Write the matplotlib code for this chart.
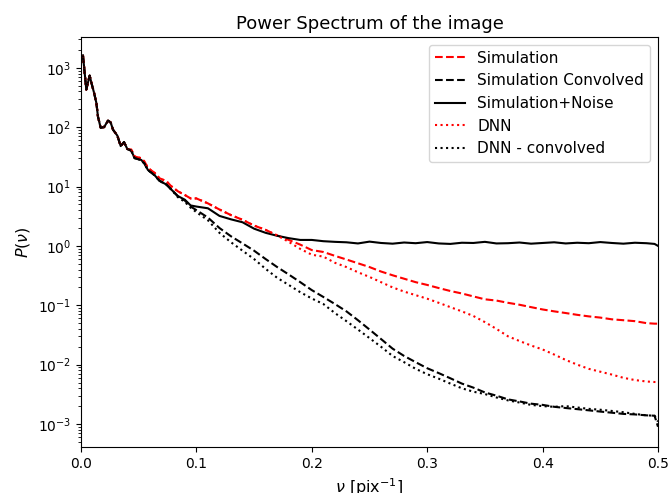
import matplotlib
matplotlib.use('Agg')
import matplotlib.pyplot as plt

# spatial frequency [pix^-1]
nu = [0.0017, 0.0046, 0.0075, 0.009, 0.0113, 0.0133, 0.0147, 0.017, 0.020,
      0.0234, 0.0257, 0.0277, 0.0315, 0.0344, 0.0373, 0.0401, 0.0436, 0.0465,
      0.0523, 0.0552, 0.058, 0.0638, 0.068, 0.074, 0.078, 0.084, 0.09, 0.095,
      0.10, 0.11, 0.12, 0.13, 0.14, 0.15, 0.16, 0.17, 0.18, 0.19, 0.20, 0.21,
      0.22, 0.23, 0.24, 0.25, 0.26, 0.27, 0.28, 0.29, 0.30, 0.31, 0.32, 0.33,
      0.34, 0.35, 0.36, 0.37, 0.38, 0.39, 0.40, 0.41, 0.42, 0.43, 0.44, 0.45,
      0.46, 0.47, 0.48, 0.49, 0.497, 0.50]

low = [1620, 430, 740, 560, 380, 257, 151, 98, 100, 129, 120, 91, 72, 48, 56, 43]

sim = low + [42, 32, 30, 26, 20.5, 17, 13.8, 12.3, 10.2, 8.3, 7.2, 6.3,
             6.3, 5.2, 4.1, 3.3, 2.75, 2.2, 1.86, 1.5, 1.26, 1.05, 0.85, 0.79,
             0.68, 0.59, 0.51, 0.44, 0.37, 0.32, 0.28, 0.245, 0.22, 0.195, 0.174, 0.158,
             0.141, 0.126, 0.12, 0.11, 0.102, 0.093, 0.085, 0.079, 0.074, 0.069, 0.065, 0.062,
             0.058, 0.056, 0.054, 0.050, 0.049, 0.049]

sim_conv = low + [40, 30, 28, 24, 19, 15.5, 12.5, 10.8, 9.0, 6.8, 5.8, 4.6,
                  4.0, 3.0, 2.0, 1.45, 1.1, 0.83, 0.60, 0.44, 0.33, 0.245, 0.18, 0.138,
                  0.105, 0.079, 0.056, 0.039, 0.027, 0.0186, 0.014, 0.011, 0.0087, 0.0072, 0.0059, 0.0048,
                  0.0041, 0.0034, 0.0030, 0.0026, 0.0024, 0.0022, 0.0021, 0.00195, 0.00186, 0.00178, 0.0017, 0.00162,
                  0.00155, 0.00148, 0.00145, 0.0014, 0.00138, 0.0009]

sim_noise = low + [40, 30, 28, 24, 19, 15.5, 12.5, 10.8, 9.0, 6.9, 6.0, 4.8,
                   4.6, 4.3, 3.2, 2.8, 2.5, 1.95, 1.66, 1.48, 1.35, 1.26, 1.26, 1.2,
                   1.17, 1.15, 1.10, 1.18, 1.12, 1.09, 1.14, 1.11, 1.16, 1.10, 1.08, 1.13,
                   1.12, 1.17, 1.10, 1.11, 1.14, 1.09, 1.12, 1.15, 1.10, 1.13, 1.11, 1.16,
                   1.12, 1.09, 1.13, 1.11, 1.08, 1.00]

dnn = low + [42, 32, 30, 26, 20.5, 17, 13.8, 12.3, 10.2, 8.3, 7.2, 6.3,
             6.3, 5.2, 4.1, 3.3, 2.75, 2.2, 1.86, 1.5, 1.17, 0.89, 0.71, 0.66,
             0.52, 0.44, 0.36, 0.30, 0.245, 0.20, 0.17, 0.148, 0.129, 0.11, 0.093, 0.079,
             0.066, 0.052, 0.040, 0.030, 0.025, 0.021, 0.018, 0.0148, 0.012, 0.010, 0.0085, 0.0076,
             0.0068, 0.0060, 0.0055, 0.0052, 0.0051, 0.0051]

dnn_conv = low + [40, 30, 28, 24, 19, 15.5, 12.5, 10.8, 9.0, 6.6, 5.5, 4.4,
                  3.7, 2.7, 1.66, 1.15, 0.83, 0.60, 0.41, 0.29, 0.22, 0.166, 0.13, 0.105,
                  0.074, 0.054, 0.039, 0.028, 0.020, 0.014, 0.011, 0.0085, 0.0069, 0.0058, 0.0048, 0.0040,
                  0.0035, 0.0032, 0.0028, 0.0025, 0.0023, 0.0021, 0.0020, 0.00195, 0.0020, 0.0019, 0.0018, 0.00174,
                  0.00166, 0.00158, 0.00148, 0.0014, 0.00138, 0.0011]

fig = plt.figure(figsize=(6.71, 4.93), dpi=100)
ax = fig.add_axes([81/671, 1 - 447/493, 577/671, 410/493])

ax.plot(nu, sim, 'r--', label='Simulation')
ax.plot(nu, sim_conv, 'k--', label='Simulation Convolved')
ax.plot(nu, sim_noise, 'k-', label='Simulation+Noise')
ax.plot(nu, dnn, 'r:', label='DNN')
ax.plot(nu, dnn_conv, 'k:', label='DNN - convolved')

ax.set_yscale('log')
ax.set_xlim(0, 0.5)
ax.set_ylim(4.1e-4, 3.3e3)
ax.set_title('Power Spectrum of the image', fontsize=13)
ax.set_xlabel(r'$\nu$ [pix$^{-1}$]', fontsize=11.5)
ax.set_ylabel(r'$P(\nu)$', fontsize=11.5)
ax.legend(loc='upper right', fontsize=11)

fig.savefig('out.png', dpi=100)
